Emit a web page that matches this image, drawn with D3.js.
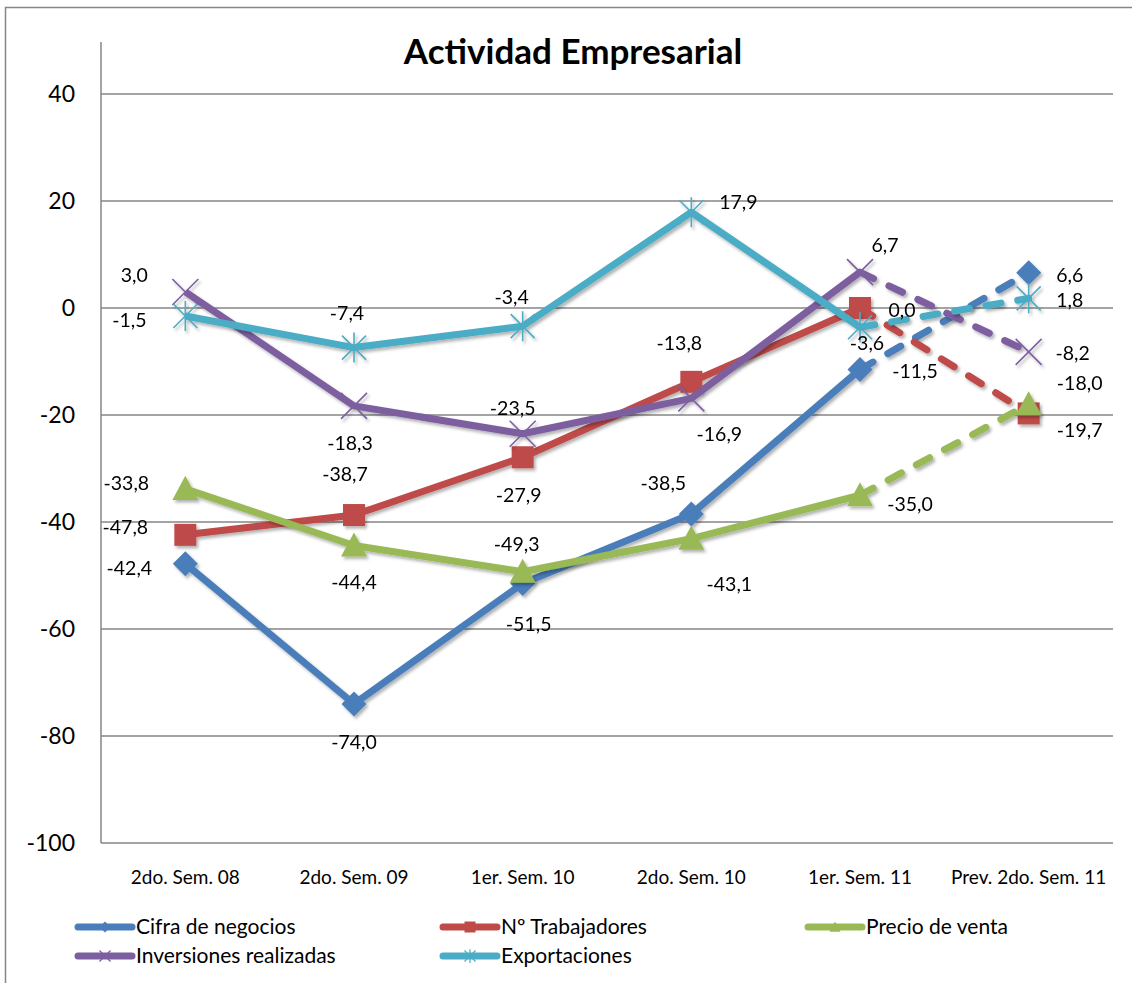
<!DOCTYPE html>
<html>
<head>
<meta charset="utf-8">
<script src="https://cdn.jsdelivr.net/npm/d3@7"></script>
<style>
  body { margin: 0; background: #fff; }
  svg { display: block; font-family: Lato, "Open Sans", sans-serif; }
</style>
</head>
<body>
<svg id="viz"></svg>
<script>
// Actividad Empresarial - line chart
const categories = ["2do. Sem. 08", "2do. Sem. 09", "1er. Sem. 10", "2do. Sem. 10", "1er. Sem. 11", "Prev. 2do. Sem. 11"];
const seriesNames = ["Cifra de negocios", "Nº Trabajadores", "Precio de venta", "Inversiones realizadas", "Exportaciones"];
const cifraNegocios = [-47.8, -74.0, -51.5, -38.5, -11.5, 6.6];
const trabajadores = [-42.4, -38.7, -27.9, -13.8, 0.0, -19.7];
const precioVenta = [-33.8, -44.4, -49.3, -43.1, -35.0, -18.0];
const inversiones = [3.0, -18.3, -23.5, -16.9, 6.7, -8.2];
const exportaciones = [-1.5, -7.4, -3.4, 17.9, -3.6, 1.8];
const yTicks = [40, 20, 0, -20, -40, -60, -80, -100];

// label placement (px offset from point), by series
const labelOffsets = [
  [[-60, -37], [0, 38], [6, 41], [-28, -31], [55, 2], [41, 2]],
  [[-56, 33], [-9, -41], [-4, 38], [-12, -39], [42, 2], [51, 17]],
  [[-59, -6], [0, 37], [-6, -28], [38, 46], [50, 9], [51, -21]],
  [[-51, -17], [-4, 37], [-10, -26], [28, 36], [25, -27], [44, 1]],
  [[-56, 4], [-7, -34], [-11, -29], [47, -10], [7, 16], [41, 2]]
];

const colors = ["#4A7EBB", "#BE4B48", "#98B954", "#7D5FA0", "#4BACC6"];
const markers = ["diamond", "square", "triangle", "x", "star"];
const values = [cifraNegocios, trabajadores, precioVenta, inversiones, exportaciones];

const locale = d3.formatLocale({ decimal: ",", thousands: ".", grouping: [3], currency: ["", "€"], minus: "-" });

const width = 1132, height = 983;
const svg = d3.select("#viz").attr("width", width).attr("height", height);

const defs = svg.append("defs");
const shadow = defs.append("filter").attr("id", "shadow")
  .attr("x", "-20%").attr("y", "-20%").attr("width", "140%").attr("height", "140%");
shadow.append("feDropShadow").attr("dx", 2).attr("dy", 2.5)
  .attr("stdDeviation", 1.8).attr("flood-color", "#000").attr("flood-opacity", 0.3);

// outer border
svg.append("rect").attr("x", 5.5).attr("y", 7.5).attr("width", 1140).attr("height", 1000)
  .attr("fill", "none").attr("stroke", "#868686").attr("stroke-width", 1.5);

const plot = { left: 101, right: 1113, top: 42, bottom: 843 };

const x = d3.scaleBand().domain(categories).range([plot.left, plot.right]);
const y = d3.scaleLinear().domain([-100, 40]).range([plot.bottom, 94]);

// title
svg.append("text").attr("x", 573).attr("y", 64).attr("text-anchor", "middle")
  .attr("font-size", 35).attr("font-weight", "bold").attr("fill", "#000")
  .text("Actividad Empresarial");

// gridlines
svg.append("g").selectAll("line").data(yTicks).enter().append("line")
  .attr("x1", plot.left).attr("x2", plot.right)
  .attr("y1", d => y(d)).attr("y2", d => y(d))
  .attr("stroke", "#868686").attr("stroke-width", 1.5);

// y axis
const yAxis = svg.append("g").attr("transform", `translate(${plot.left},0)`)
  .call(d3.axisLeft(y).tickValues(yTicks).tickSize(0).tickPadding(26).tickFormat(locale.format("d")));
yAxis.select(".domain").remove();
yAxis.append("line").attr("x1", 0).attr("x2", 0).attr("y1", plot.top).attr("y2", plot.bottom)
  .attr("stroke", "#868686").attr("stroke-width", 1.5);
yAxis.selectAll("text").attr("font-size", 23).attr("fill", "#000").attr("font-family", "Lato, sans-serif");

// x axis labels
const xAxis = svg.append("g").attr("transform", `translate(0,${plot.bottom})`)
  .call(d3.axisBottom(x).tickSize(0).tickPadding(28));
xAxis.select(".domain").remove();
xAxis.selectAll("text").attr("font-size", 19).attr("fill", "#000").attr("font-family", "Lato, sans-serif");

function markerPath(type, s) {
  const h = s / 2;
  switch (type) {
    case "diamond": return `M0,${-h}L${h},0L0,${h}L${-h},0Z`;
    case "square": return `M${-h},${-h}H${h}V${h}H${-h}Z`;
    case "triangle": return `M0,${-h}L${h},${h * 0.85}L${-h},${h * 0.85}Z`;
    case "x": return `M${-h},${-h}L${h},${h}M${-h},${h}L${h},${-h}`;
    case "star": return `M${-h},${-h}L${h},${h}M${-h},${h}L${h},${-h}M0,${-h * 1.25}V${h * 1.25}`;
  }
}
const markerSize = { diamond: 25, square: 22, triangle: 26, x: 26, star: 24 };
const filled = t => t === "diamond" || t === "square" || t === "triangle";

const line = d3.line().x(d => x(d.cat) + x.bandwidth() / 2).y(d => y(d.v));

values.forEach((vals, si) => {
  const pts = vals.map((v, i) => ({ cat: categories[i], v }));
  const g = svg.append("g").attr("class", "series").attr("filter", "url(#shadow)");
  g.append("path").datum(pts.slice(0, 5)).attr("d", line)
    .attr("fill", "none").attr("stroke", colors[si]).attr("stroke-width", 7)
    .attr("stroke-linejoin", "round");
  g.append("path").datum(pts.slice(4)).attr("d", line)
    .attr("fill", "none").attr("stroke", colors[si]).attr("stroke-width", 7)
    .attr("stroke-linecap", "round").attr("stroke-dasharray", "15,17");
  const t = markers[si];
  g.selectAll(".mk").data(pts).enter().append("path")
    .attr("transform", d => `translate(${x(d.cat) + x.bandwidth() / 2},${y(d.v)})`)
    .attr("d", markerPath(t, markerSize[t]))
    .attr("fill", filled(t) ? colors[si] : "none")
    .attr("stroke", colors[si]).attr("stroke-width", filled(t) ? 0 : 1.6);
});

// data labels
const fmt = locale.format(".1f");
values.forEach((vals, si) => {
  svg.append("g").selectAll("text").data(vals).enter().append("text")
    .attr("x", (v, i) => x(categories[i]) + x.bandwidth() / 2 + labelOffsets[si][i][0])
    .attr("y", (v, i) => y(v) + labelOffsets[si][i][1])
    .attr("dy", "0.35em").attr("text-anchor", "middle")
    .attr("font-size", 19.5).attr("fill", "#000")
    .text(v => fmt(v));
});

// legend
const legendPos = [[75, 927], [440, 927], [805, 927], [75, 956], [440, 956]];
const legend = svg.append("g").selectAll("g").data(seriesNames).enter().append("g")
  .attr("transform", (d, i) => `translate(${legendPos[i][0]},${legendPos[i][1]})`);
legend.append("line").attr("x1", 3).attr("x2", 57).attr("y1", 0).attr("y2", 0)
  .attr("stroke", (d, i) => colors[i]).attr("stroke-width", 7).attr("stroke-linecap", "round");
legend.append("path").attr("transform", "translate(30,0)")
  .attr("d", (d, i) => markerPath(markers[i], 11))
  .attr("fill", (d, i) => filled(markers[i]) ? colors[i] : "none")
  .attr("stroke", (d, i) => colors[i]).attr("stroke-width", (d, i) => filled(markers[i]) ? 0 : 1.2);
legend.append("text").attr("x", 61).attr("y", 0).attr("dy", "0.35em")
  .attr("font-size", 21).attr("fill", "#000").text(d => d);
</script>
</body>
</html>
